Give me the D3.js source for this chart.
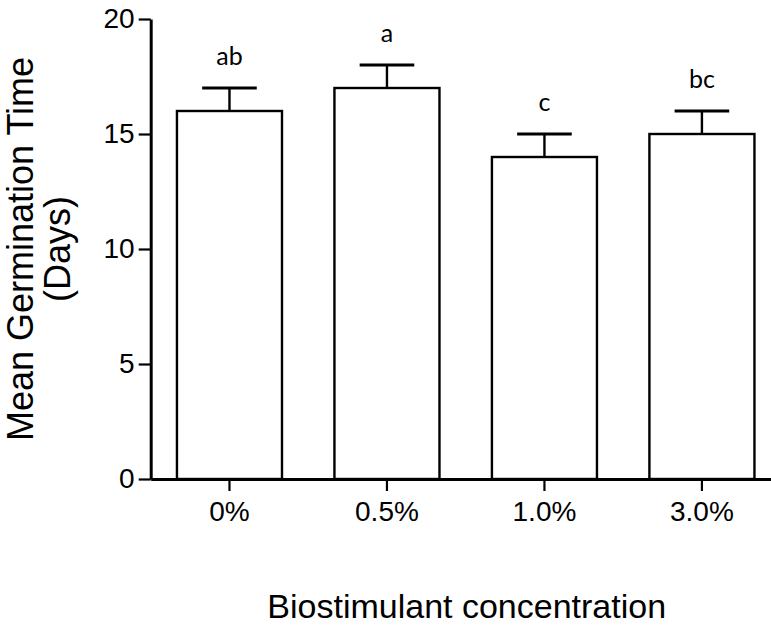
<!DOCTYPE html>
<html>
<head>
<meta charset="utf-8">
<script src="https://cdn.jsdelivr.net/npm/d3@7"></script>
<style>
  html, body { margin: 0; padding: 0; background: #ffffff; }
  svg { display: block; }
  text { fill: #000; }
</style>
</head>
<body>
<svg id="chart" width="771" height="625"></svg>
<script>
// Mean germination time per biostimulant concentration
const categories = ["0%", "0.5%", "1.0%", "3.0%"];
const meanDays = [16, 17, 14, 15];
const errDays = [1, 1, 1, 1];
const groupLetters = ["ab", "a", "c", "bc"];
const yTicks = [0, 5, 10, 15, 20];

const svg = d3.select("#chart");
const axisFont = "Arial, 'Liberation Sans', sans-serif";

const x = d3.scaleBand()
  .domain(categories)
  .range([150.7, 780.7])
  .paddingInner(0.333)
  .paddingOuter(0.1667);

const y = d3.scaleLinear()
  .domain([0, 20])
  .range([479, 19]);

// Bars
svg.append("g")
  .selectAll("rect")
  .data(categories)
  .join("rect")
  .attr("x", d => x(d))
  .attr("y", (d, i) => y(meanDays[i]))
  .attr("width", x.bandwidth())
  .attr("height", (d, i) => y(0) - y(meanDays[i]))
  .attr("fill", "#ffffff")
  .attr("stroke", "#000")
  .attr("stroke-width", 2.4);

// Upper error bars with caps
const eb = svg.append("g").attr("stroke", "#000");
categories.forEach((c, i) => {
  const cx = x(c) + x.bandwidth() / 2;
  const top = y(meanDays[i] + errDays[i]);
  eb.append("line")
    .attr("x1", cx).attr("x2", cx)
    .attr("y1", y(meanDays[i])).attr("y2", top)
    .attr("stroke-width", 2.4);
  eb.append("line")
    .attr("x1", cx - x.bandwidth() * 0.26).attr("x2", cx + x.bandwidth() * 0.26)
    .attr("y1", top).attr("y2", top)
    .attr("stroke-width", 3);
});

// Significance letters
svg.append("g")
  .selectAll("text")
  .data(categories)
  .join("text")
  .attr("x", d => x(d) + x.bandwidth() / 2)
  .attr("y", (d, i) => y(meanDays[i] + errDays[i]) - 23)
  .attr("text-anchor", "middle")
  .style("font-family", "Lato, 'Open Sans', sans-serif")
  .style("font-size", "25px")
  .text((d, i) => groupLetters[i]);

// Y axis
const yAxis = svg.append("g")
  .attr("transform", "translate(150.7,0)")
  .call(d3.axisLeft(y).tickValues(yTicks).tickSize(12).tickPadding(4).tickSizeOuter(0));
yAxis.select(".domain").attr("stroke-width", 3);
yAxis.selectAll(".tick line").attr("stroke-width", 2.2);
yAxis.selectAll(".tick text")
  .style("font-family", axisFont)
  .style("font-size", "28px");

// X axis
const xAxis = svg.append("g")
  .attr("transform", "translate(0,479)")
  .call(d3.axisBottom(x).tickSize(12).tickPadding(10).tickSizeOuter(0));
xAxis.select(".domain").attr("stroke-width", 3);
xAxis.selectAll(".tick line").attr("stroke-width", 2.2);
xAxis.selectAll(".tick text")
  .style("font-family", axisFont)
  .style("font-size", "28px");

// Axis titles
const yTitle = svg.append("text")
  .attr("transform", "translate(33,249) rotate(-90)")
  .attr("text-anchor", "middle")
  .style("font-family", axisFont)
  .style("font-size", "36px");
yTitle.append("tspan").attr("x", 0).attr("y", 0).text("Mean Germination Time");
yTitle.append("tspan").attr("x", 0).attr("y", 37).text("(Days)");

svg.append("text")
  .attr("x", 466.7)
  .attr("y", 618)
  .attr("text-anchor", "middle")
  .style("font-family", axisFont)
  .style("font-size", "34px")
  .text("Biostimulant concentration");
</script>
</body>
</html>
